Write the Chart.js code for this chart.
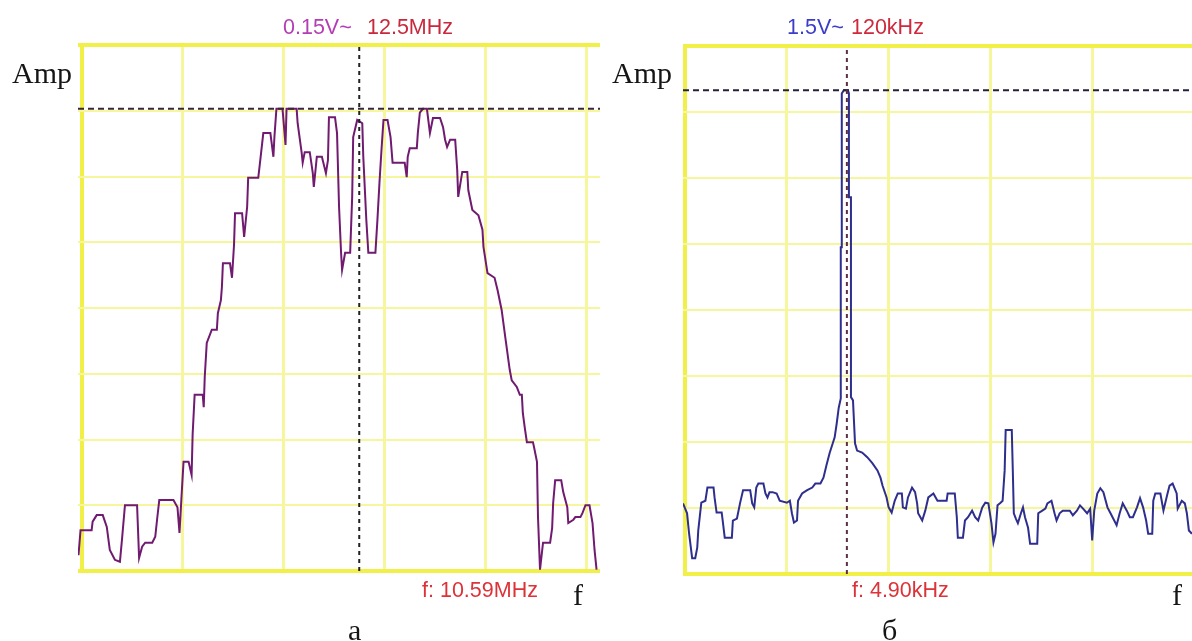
<!DOCTYPE html>
<html>
<head>
<meta charset="utf-8">
<script src="https://cdn.jsdelivr.net/npm/chart.js@4/dist/chart.umd.min.js"></script>
<style>
  html, body { margin: 0; padding: 0; background: #fff; width: 1192px; height: 641px; overflow: hidden; position: relative; }
  canvas { position: absolute; }
  .lbl { position: absolute; white-space: nowrap; line-height: 1; }
  .serif { font-family: "Liberation Serif", "Times New Roman", serif; color: #151515; font-size: 30px; }
  .sans { font-family: "Liberation Sans", Arial, sans-serif; font-size: 21.5px; }
</style>
</head>
<body>
<canvas id="specA" width="560" height="560" style="left:60px;top:30px"></canvas>
<canvas id="specB" width="540" height="560" style="left:660px;top:30px"></canvas>

<div class="lbl serif" style="left:12px;top:58px">Amp</div>
<div class="lbl sans" style="left:283px;top:17px;color:#b43cb4">0.15V~</div>
<div class="lbl sans" style="left:367px;top:17px;color:#c8283c">12.5MHz</div>
<div class="lbl sans" style="left:422px;top:580px;color:#dc3238">f: 10.59MHz</div>
<div class="lbl serif" style="left:573px;top:580px">f</div>
<div class="lbl serif" style="left:348px;top:615px">а</div>

<div class="lbl serif" style="left:612px;top:58px">Amp</div>
<div class="lbl sans" style="left:787px;top:17px;color:#3c3cc8">1.5V~</div>
<div class="lbl sans" style="left:851px;top:17px;color:#d0283c">120kHz</div>
<div class="lbl sans" style="left:852px;top:580px;color:#dc3238">f: 4.90kHz</div>
<div class="lbl serif" style="left:1172px;top:580px">f</div>
<div class="lbl serif" style="left:882px;top:615px">б</div>

<script>
// Spectrum "а": frequency in screen divisions, amplitude in vertical divisions
const freqA = [-0.03,-0.01,0.10,0.11,0.15,0.21,0.25,0.28,0.33,0.38,0.40,0.43,0.55,0.57,0.60,0.63,0.70,0.73,0.75,0.77,
  0.91,0.95,0.97,0.99,1.01,1.06,1.09,1.10,1.12,1.20,1.21,1.22,1.24,1.29,1.34,1.35,1.38,1.39,1.40,1.47,
  1.49,1.51,1.52,1.59,1.61,1.64,1.65,1.75,1.77,1.80,1.87,1.90,1.91,1.93,1.99,2.02,2.03,2.13,2.14,2.18,
  2.19,2.21,2.26,2.29,2.30,2.33,2.38,2.42,2.44,2.45,2.51,2.53,2.55,2.57,2.58,2.61,2.66,2.68,2.69,2.73,
  2.78,2.79,2.82,2.84,2.91,2.93,2.95,2.97,2.99,3.03,3.06,3.08,3.20,3.22,3.23,3.25,3.32,3.33,3.35,3.38,
  3.42,3.45,3.48,3.55,3.58,3.60,3.62,3.65,3.70,3.72,3.73,3.77,3.82,3.83,3.87,3.93,3.97,3.98,4.02,4.09,
  4.12,4.16,4.20,4.24,4.26,4.31,4.34,4.36,4.37,4.39,4.41,4.47,4.48,4.51,4.52,4.54,4.57,4.64,4.66,4.67,
  4.69,4.75,4.77,4.81,4.82,4.87,4.89,4.94,4.96,4.99,5.03,5.06,5.08,5.10];
const ampA = [0.24,0.62,0.62,0.75,0.85,0.85,0.67,0.32,0.17,0.14,0.47,1.00,1.00,0.20,0.37,0.43,0.43,0.52,0.81,1.08,
  1.08,0.97,0.58,1.13,1.66,1.66,1.46,2.07,2.68,2.68,2.49,2.95,3.47,3.67,3.67,3.92,4.12,4.32,4.68,4.68,
  4.46,4.96,5.44,5.44,5.08,5.54,5.98,5.98,6.25,6.66,6.66,6.30,6.60,7.03,7.03,6.48,7.03,7.03,6.81,6.36,
  6.21,6.37,6.37,6.05,5.84,6.30,6.30,6.05,6.25,6.90,6.90,6.66,5.54,4.84,4.58,4.84,4.84,5.69,6.60,6.86,
  6.81,6.30,5.34,4.84,4.84,5.34,5.90,6.40,6.86,6.86,6.60,6.21,6.21,5.99,6.30,6.43,6.43,6.66,6.97,7.03,
  7.03,6.66,6.89,6.89,6.75,6.56,6.45,6.56,6.56,6.10,5.69,6.07,6.07,5.79,5.49,5.41,5.19,4.93,4.53,4.46,
  4.27,3.97,3.51,3.06,2.90,2.80,2.68,2.68,2.40,2.17,1.96,1.96,1.89,1.66,0.82,0.02,0.43,0.43,0.65,1.03,
  1.38,1.38,1.20,0.97,0.73,0.78,0.82,0.82,0.88,1.00,1.00,0.73,0.32,0.02];

// Spectrum "б"
const freqB = [-0.02,0.02,0.04,0.07,0.10,0.12,0.13,0.16,0.20,0.22,0.28,0.29,0.31,0.36,0.37,0.39,0.46,0.47,0.51,0.54,
  0.57,0.64,0.66,0.68,0.70,0.72,0.77,0.79,0.81,0.83,0.86,0.90,0.93,1.00,1.03,1.05,1.07,1.10,1.11,1.15,
  1.20,1.25,1.28,1.33,1.36,1.39,1.42,1.47,1.49,1.51,1.53,1.53,1.54,1.54,1.56,1.60,1.61,1.61,1.63,1.63,
  1.65,1.67,1.69,1.74,1.79,1.84,1.89,1.92,1.94,1.98,2.00,2.03,2.06,2.09,2.13,2.14,2.17,2.19,2.23,2.26,
  2.28,2.29,2.33,2.36,2.39,2.44,2.48,2.57,2.58,2.65,2.67,2.68,2.73,2.75,2.78,2.82,2.85,2.88,2.92,2.95,
  2.98,3.01,3.03,3.05,3.07,3.10,3.12,3.14,3.15,3.21,3.22,3.23,3.25,3.27,3.30,3.32,3.34,3.37,3.39,3.46,
  3.47,3.51,3.54,3.56,3.60,3.63,3.65,3.68,3.71,3.78,3.81,3.85,3.88,3.91,3.95,3.98,4.00,4.02,4.05,4.08,
  4.11,4.15,4.18,4.20,4.24,4.27,4.30,4.34,4.37,4.40,4.44,4.47,4.50,4.53,4.55,4.59,4.60,4.62,4.67,4.70,
  4.74,4.76,4.79,4.83,4.84,4.88,4.91,4.93,4.95,4.98];
const ampB = [1.07,0.92,0.61,0.24,0.24,0.40,0.66,1.08,1.11,1.31,1.31,1.16,0.93,0.93,0.81,0.55,0.55,0.81,0.84,1.07,
  1.27,1.27,1.07,1.01,1.31,1.37,1.37,1.22,1.16,1.24,1.24,1.22,1.11,1.08,1.11,0.92,0.78,0.81,1.11,1.22,
  1.27,1.31,1.37,1.37,1.46,1.65,1.83,2.07,2.28,2.52,2.66,4.95,4.95,7.28,7.33,7.33,7.28,5.71,5.71,2.68,
  2.63,1.98,1.87,1.84,1.77,1.68,1.57,1.46,1.34,1.16,1.01,0.93,1.11,1.22,1.22,1.01,0.99,1.16,1.31,1.24,
  1.07,0.92,0.81,0.96,1.16,1.22,1.11,1.11,1.22,1.22,0.86,0.55,0.55,0.81,0.86,0.96,0.86,0.81,1.01,1.08,
  1.07,0.77,0.48,0.61,1.04,1.08,1.11,1.57,2.18,2.18,1.57,0.92,0.84,0.77,0.92,1.01,0.86,0.70,0.46,0.46,
  0.92,0.96,0.99,1.07,1.11,0.92,0.81,0.92,0.96,0.96,0.89,0.96,1.04,0.99,0.92,0.99,0.51,0.96,1.22,1.30,
  1.24,1.01,0.92,0.86,0.74,0.92,1.07,0.96,0.86,0.86,1.01,1.15,1.01,0.81,0.61,0.61,1.11,1.22,1.22,0.96,
  1.22,1.34,1.37,1.22,0.99,1.11,1.07,0.92,0.66,0.61];

// Cursor readings: marker frequency and reference amplitude level
const cursorA = { freq: 2.75, level: 7.03 };
const cursorB = { freq: 1.59, level: 7.33 };

const divisions = 8;

function pairs(xs, ys) { return xs.map((x, i) => ({ x, y: ys[i] })); }

function buildChart(id, freq, amp, cursor, view) {
  const borderYellow = '#f0f048';
  const lightYellow = '#f6f69c';
  return new Chart(document.getElementById(id), {
    type: 'line',
    data: {
      datasets: [
        {
          data: [{ x: cursor.freq, y: 0 }, { x: cursor.freq, y: divisions }],
          borderColor: view.vColor, borderWidth: 2, borderDash: [4, 4],
          pointRadius: 0, order: 0
        },
        {
          data: [{ x: view.xMin, y: cursor.level }, { x: view.xMax, y: cursor.level }],
          borderColor: view.hColor, borderWidth: 2, borderDash: [6, 4],
          pointRadius: 0, order: 1
        },
        {
          data: pairs(freq, amp),
          borderColor: view.trace, borderWidth: 2, tension: 0,
          pointRadius: 0, order: 2
        }
      ]
    },
    options: {
      responsive: false,
      animation: false,
      events: [],
      layout: { padding: view.pad },
      plugins: { legend: { display: false }, tooltip: { enabled: false } },
      scales: {
        x: {
          type: 'linear', min: view.xMin, max: view.xMax,
          afterFit: s => { s.height = 0; },
          ticks: { display: false, stepSize: 1, includeBounds: false },
          border: { display: false },
          grid: {
            drawTicks: false,
            color: c => (c.tick && c.tick.value === 0) ? borderYellow : lightYellow,
            lineWidth: c => (c.tick && c.tick.value === 0) ? 4 : 3
          }
        },
        y: {
          min: 0, max: divisions,
          afterFit: s => { s.width = 0; },
          ticks: { display: false, stepSize: 1 },
          border: { display: false },
          grid: {
            drawTicks: false,
            color: c => (c.tick && (c.tick.value === 0 || c.tick.value === divisions)) ? borderYellow : lightYellow,
            lineWidth: c => (c.tick && (c.tick.value === 0 || c.tick.value === divisions)) ? 4 : 2
          }
        }
      }
    }
  });
}

buildChart('specA', freqA, ampA, cursorA, {
  xMin: -0.035, xMax: 5.134,
  pad: { left: 18, right: 20, top: 15, bottom: 19 },
  trace: '#701a70', hColor: '#3a2638', vColor: '#222222'
});

buildChart('specB', freqB, ampB, cursorB, {
  xMin: -0.02, xMax: 5.01,
  pad: { left: 23, right: 5, top: 16, bottom: 16 },
  trace: '#2e2e8e', hColor: '#22223a', vColor: '#5a3046'
});
</script>
</body>
</html>
